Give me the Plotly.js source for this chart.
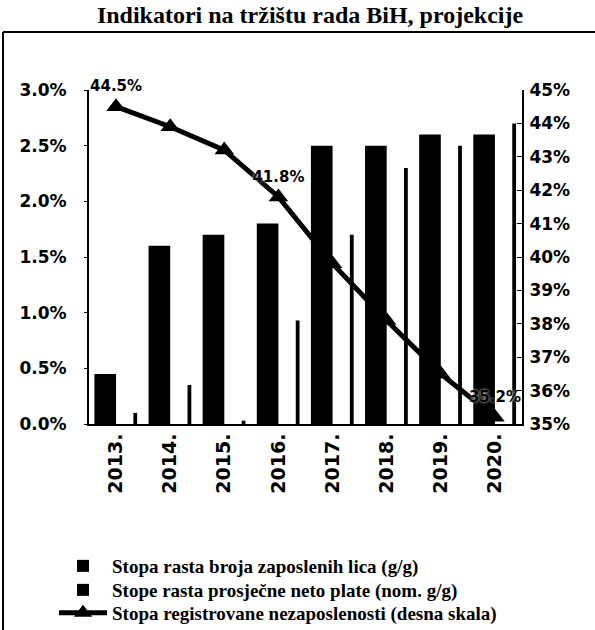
<!DOCTYPE html>
<html>
<head>
<meta charset="utf-8">
<script src="https://cdn.plot.ly/plotly-3.0.1.min.js"></script>
<style>html,body{margin:0;padding:0;background:#fff;}#chart{width:595px;height:630px;}</style>
</head>
<body>
<div id="chart"></div>
<script>
// Data
var years = ['2013.', '2014.', '2015.', '2016.', '2017.', '2018.', '2019.', '2020.'];
var employmentGrowth = [0.45, 1.6, 1.7, 1.8, 2.5, 2.5, 2.6, 2.6];
var wageGrowth = [0.1, 0.35, 0.03, 0.93, 1.7, 2.3, 2.5, 2.7];
var unemploymentRate = [44.5, 43.9, 43.2, 41.8, 39.8, 38.1, 36.5, 35.2];
var unemploymentLabels = ['44.5%', '', '', '41.8%', '', '', '', '35.2%'];
var seriesNames = [
  'Stopa rasta broja zaposlenih lica (g/g)',
  'Stope rasta prosječne neto plate (nom. g/g)',
  'Stopa registrovane nezaposlenosti (desna skala)'
];

var L = 89, R = 522, T = 90, B = 424, W = 595, H = 630;
function px(x) { return (x - L) / (R - L); }
function py(y) { return (B - y) / (B - T); }

function tickFont(size) { return {family: 'DejaVu Sans', weight: 'bold', size: size, color: '#000'}; }
var legendFont = {family: 'Liberation Serif', weight: 'bold', size: 19, color: '#000'};

var labelFont = tickFont(15);
labelFont.shadow = '0px 0px 3px #fff';

var traces = [
  {
    type: 'bar', x: years, y: employmentGrowth, name: seriesNames[0],
    width: 0.4, offset: -0.4,
    marker: {color: '#000', line: {width: 0}},
    legend: 'legend', hoverinfo: 'skip'
  },
  {
    type: 'bar', x: years, y: wageGrowth, name: seriesNames[1],
    width: 0.07, offset: 0.32,
    marker: {color: '#000', line: {width: 0}},
    legend: 'legend2', hoverinfo: 'skip'
  },
  {
    type: 'scatter', x: years, y: unemploymentRate, name: seriesNames[2],
    yaxis: 'y2', mode: 'lines+markers+text',
    text: unemploymentLabels, textposition: 'top center',
    textfont: labelFont,
    line: {color: '#000', width: 5},
    marker: {symbol: 'triangle-up', size: 17, color: '#000'},
    cliponaxis: false,
    legend: 'legend3', hoverinfo: 'skip'
  }
];

function legendAt(yc) {
  return {
    x: px(54), xref: 'paper', xanchor: 'left',
    y: 1 - yc / H, yref: 'container', yanchor: 'middle',
    orientation: 'v', font: legendFont,
    bgcolor: 'rgba(0,0,0,0)', borderwidth: 0, itemwidth: 48
  };
}

var layout = {
  width: W, height: H,
  margin: {l: L, r: W - R, t: T, b: H - B, pad: 0},
  paper_bgcolor: '#fff', plot_bgcolor: '#fff',
  showlegend: true,
  barmode: 'overlay',
  title: {
    text: 'Indikatori na tržištu rada BiH, projekcije',
    font: {family: 'Liberation Serif', weight: 'bold', size: 24, color: '#000'},
    x: 310 / W, xanchor: 'center', y: 1 - 15 / H, yanchor: 'middle'
  },
  xaxis: {
    type: 'category', tickangle: -90,
    tickfont: tickFont(19),
    showline: true, linecolor: '#000', linewidth: 2,
    ticks: '', showgrid: false, zeroline: false,
    range: [-0.5, 7.5]
  },
  yaxis: {
    range: [0, 3], dtick: 0.5, tickformat: '.1f', ticksuffix: '%',
    tickfont: tickFont(17),
    showline: true, linecolor: '#000', linewidth: 2,
    ticks: 'outside', ticklen: 3, tickcolor: '#000',
    ticklabelstandoff: 14,
    showgrid: false, zeroline: false
  },
  yaxis2: {
    range: [35, 45], dtick: 1, ticksuffix: '%',
    overlaying: 'y', side: 'right',
    tickfont: tickFont(17),
    showline: true, linecolor: '#000', linewidth: 2,
    ticks: 'inside', ticklen: 5, tickcolor: '#000',
    ticklabelstandoff: 2,
    showgrid: false, zeroline: false
  },
  legend: legendAt(566),
  legend2: legendAt(590),
  legend3: legendAt(613),
  shapes: [
    {type: 'line', xref: 'paper', yref: 'paper', x0: px(3), x1: px(595), y0: py(32), y1: py(32),
     line: {color: '#000', width: 2}},
    {type: 'line', xref: 'paper', yref: 'paper', x0: px(3), x1: px(3), y0: py(32), y1: py(630),
     line: {color: '#000', width: 2}}
  ]
};

Plotly.newPlot('chart', traces, layout, {displayModeBar: false, staticPlot: true});
</script>
</body>
</html>
